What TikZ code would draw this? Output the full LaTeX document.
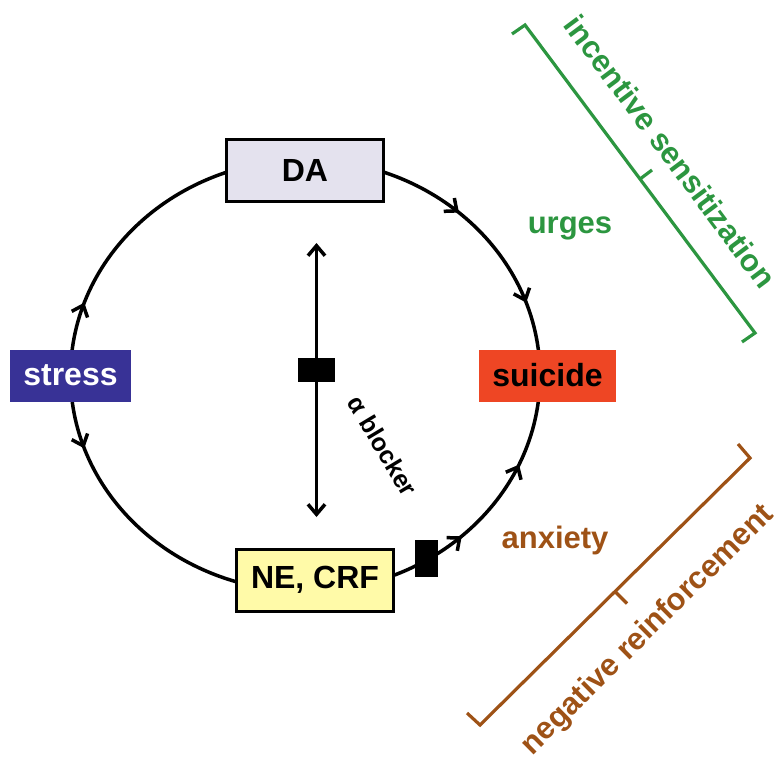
\documentclass[tikz,border=0pt]{standalone}
\usepackage{fontspec}
\setmainfont{Liberation Sans}
\usepackage{xcolor}
\usepackage{tikz}
\usetikzlibrary{arrows.meta, calc, backgrounds, decorations.markings}

\definecolor{daFill}{RGB}{228,226,238}
\definecolor{neFill}{RGB}{255,250,168}
\definecolor{stressBlue}{RGB}{56,50,150}
\definecolor{suicideRed}{RGB}{238,70,36}
\definecolor{urgeGreen}{RGB}{44,150,64}
\definecolor{anxBrown}{RGB}{158,82,22}

\begin{document}
\begin{tikzpicture}[x=1pt, y=1pt, >={Straight Barb[length=10pt, width=17pt]},
    box/.style={rectangle, draw=black, line width=3pt, minimum width=157pt, minimum height=62pt, inner sep=0pt, font=\bfseries\fontsize{32}{34}\selectfont},
    tag/.style={rectangle, inner sep=0pt, minimum height=52pt, font=\bfseries\fontsize{32}{34}\selectfont},
    blocker/.style={rectangle, fill=black, inner sep=0pt},
    ring/.style={line width=3.5pt},
    flow/.style={decoration={markings, mark=at position #1 with {\arrow{>}}}, postaction={decorate}},
    back/.style 2 args={decoration={markings, mark=at position #1 with {\arrowreversed{>}}, mark=at position #2 with {\arrowreversed{>}}}, postaction={decorate}},
    word/.style={font=\bfseries\fontsize{31}{33}\selectfont},
    brace/.style={line width=3.2pt, line join=miter}]

    \useasboundingbox (0,0) rectangle (781,-766);

    % main loop
    \node [box, fill=daFill] (da) at (305,-170.5) {DA};
    \node [box, fill=neFill] (ne) at (315,-580) {NE, CRF};
    \node [tag, fill=stressBlue, text=white, minimum width=121pt] (stress) at (70.5,-375.5) {stress};
    \node [tag, fill=suicideRed, minimum width=137pt] (suicide) at (547.5,-375.5) {suicide};
    \coordinate (ringE) at ([xshift=-7.5pt]suicide.center);

    \node [blocker, minimum width=23pt, minimum height=37pt] (gate) at (426.5,-558.5) {};

    % alpha blocker
    \coordinate (probeTop) at (316.5,-243);
    \coordinate (probeBot) at (316.5,-517);
    \node [blocker, minimum width=37pt, minimum height=24pt] (plug) at (316.5,-370) {};
    \node [font=\bfseries\fontsize{25}{27}\selectfont, rotate=-59] (alpha) at (383,-446) {α blocker};

    \begin{scope}[on background layer]
        \draw [ring, flow=0.21] (stress.center) arc[start angle=180, end angle=90, x radius=236pt, y radius=216pt];
        \draw [ring, flow=0.21] (stress.center) arc[start angle=180, end angle=270, x radius=236pt, y radius=216pt];
        \draw [ring, back={0.21}{0.53}] (ringE) arc[start angle=0, end angle=90, x radius=236pt, y radius=216pt];
        \draw [ring, back={0.26}{0.52}] (ringE) arc[start angle=0, end angle=-90, x radius=236pt, y radius=216pt];
        \draw [ring, <->] (probeTop) -- (probeBot);
    \end{scope}

    \node [word, text=urgeGreen] (urges) at (570,-228) {urges};
    \node [word, text=anxBrown] (anxiety) at (555,-540) {anxiety};

    % incentive sensitization bracket
    \coordinate (isA) at (525,-25);
    \coordinate (isB) at (755,-333);
    \draw [brace, urgeGreen] (isA) ++(-13,-9) -- (isA) -- (isB) -- ++(-13,-9);
    \draw [brace, urgeGreen] ($(isA)!0.5!(isB)$) -- ++(12,9);
    \node [word, text=urgeGreen, rotate=-53.3] (incent) at ($($(isA)!0.49!(isB)$)!41pt!90:(isB)$) {incentive sensitization};

    % negative reinforcement bracket
    \coordinate (nrA) at (480,-725);
    \coordinate (nrB) at (750,-458);
    \draw [brace, anxBrown] (nrA) ++(-13,12) -- (nrA) -- (nrB) -- ++(-12,14);
    \draw [brace, anxBrown] ($(nrA)!0.5!(nrB)$) -- ++(12,-12);
    \node [word, text=anxBrown, rotate=44.7] (negrf) at ($($(nrA)!0.49!(nrB)$)!51pt!-90:(nrB)$) {negative reinforcement};
\end{tikzpicture}
\end{document}
